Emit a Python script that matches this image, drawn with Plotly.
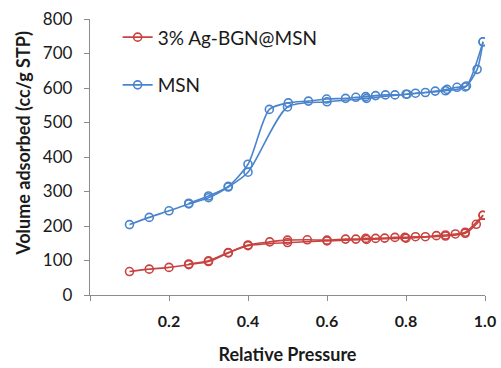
import plotly.graph_objects as go

# ---- data ----
msn_ads_x = [0.10, 0.15, 0.20, 0.25, 0.30, 0.35, 0.40, 0.50, 0.60, 0.70, 0.80, 0.90, 0.95, 0.98, 0.995]
msn_ads_y = [204, 225, 244, 264, 282, 313, 356, 545, 560, 570, 582, 592, 603, 654, 734]
msn_des_x = [0.995, 0.953, 0.929, 0.904, 0.874, 0.849, 0.824, 0.803, 0.772, 0.748, 0.723, 0.698,
             0.673, 0.647, 0.599, 0.553, 0.502, 0.454, 0.40, 0.35, 0.30, 0.25]
msn_des_y = [734, 606, 602, 596, 591, 587, 585, 582, 580, 580, 578, 575,
             573, 570, 568, 562, 557, 538, 379, 315, 287, 266]

ag_ads_x = [0.10, 0.15, 0.20, 0.25, 0.30, 0.35, 0.40, 0.50, 0.60, 0.70, 0.80, 0.90, 0.95, 0.978, 0.995]
ag_ads_y = [68, 75, 80, 88, 97, 122, 143, 152, 157, 161, 165, 171, 179, 205, 231]
ag_des_x = [0.995, 0.95, 0.925, 0.90, 0.877, 0.849, 0.824, 0.797, 0.772, 0.746, 0.723, 0.698,
            0.673, 0.647, 0.60, 0.55, 0.50, 0.455, 0.40, 0.35, 0.30, 0.25]
ag_des_y = [231, 182, 177, 174, 172, 169, 169, 167, 167, 165, 164, 164,
            162, 162, 159, 160, 159, 154, 145, 123, 99, 90]

x_tickvals = [0, 0.2, 0.4, 0.6, 0.8, 1.0]
x_ticktext = ["", "0.2", "0.4", "0.6", "0.8", "1.0"]

series_names = ["3% Ag-BGN@MSN", "MSN"]
RED = "#C8423F"
BLUE = "#4A84CC"
FONT = "Lato"

fig = go.Figure()

def add_series(name, color, ax, ay, dx, dy):
    common = dict(mode="lines+markers",
                  line=dict(color=color, width=1.6, shape="spline", smoothing=0.7),
                  marker=dict(symbol="circle-open", size=8, color=color, line=dict(width=1.6, color=color)),
                  legendgroup=name, name=name)
    fig.add_trace(go.Scatter(x=ax, y=ay, showlegend=True, **common))
    fig.add_trace(go.Scatter(x=dx, y=dy, showlegend=False, **common))

add_series(series_names[0], RED, ag_ads_x, ag_ads_y, ag_des_x, ag_des_y)
add_series(series_names[1], BLUE, msn_ads_x, msn_ads_y, msn_des_x, msn_des_y)

axis_col = "#8C8C8C"
fig.update_layout(
    width=501, height=368,
    margin=dict(l=90, r=16, t=19, b=73),
    paper_bgcolor="white", plot_bgcolor="white",
    font=dict(family=FONT, color="#1a1a1a"),
    showlegend=True,
    legend=dict(x=0.07, y=1.0025, xanchor="left", yanchor="top",
                font=dict(size=19, family=FONT, color="#1a1a1a"),
                bgcolor="rgba(0,0,0,0)", tracegroupgap=20, traceorder="grouped"),
    xaxis=dict(range=[0, 1.0], tickvals=x_tickvals, ticktext=x_ticktext, automargin=False,
               showgrid=False, zeroline=False, showline=True, linecolor=axis_col, linewidth=1.3,
               ticks="outside", ticklen=5, tickcolor=axis_col, tickwidth=1.3, ticklabelstandoff=7,
               ticklabeloverflow="allow",
               tickfont=dict(size=16, family=FONT, weight="bold", color="#1a1a1a"),
               title=dict(text="<b>Relative Pressure</b>", font=dict(size=18, family=FONT), standoff=19)),
    yaxis=dict(range=[0, 800], dtick=100, automargin=False,
               showgrid=False, zeroline=False, showline=True, linecolor=axis_col, linewidth=1.3,
               ticks="outside", ticklen=5, tickcolor=axis_col, tickwidth=1.3, ticklabelstandoff=8,
               tickfont=dict(size=17, family=FONT, color="#1a1a1a")),
    annotations=[dict(text="<b>Volume adsorbed (cc/g STP)</b>", textangle=-90,
                      xref="paper", yref="paper", x=-0.168, y=0.55,
                      xanchor="center", yanchor="middle", showarrow=False,
                      font=dict(size=18, family=FONT, color="#1a1a1a"))],
)

fig.write_html("out.html")
